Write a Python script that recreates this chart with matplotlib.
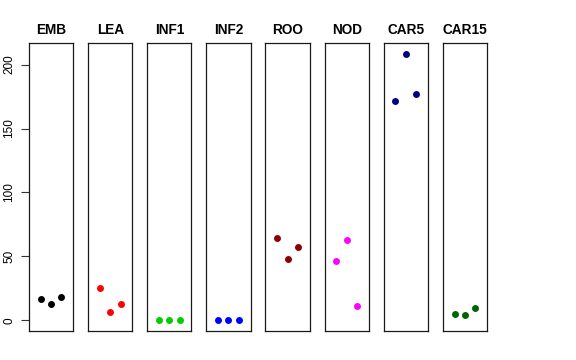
import matplotlib
matplotlib.use("Agg")
import matplotlib.pyplot as plt

plt.rcParams['font.family'] = ['Liberation Sans', 'DejaVu Sans']

categories = ["EMB", "LEA", "INF1", "INF2", "ROO", "NOD", "CAR5", "CAR15"]
values = {
    "EMB":   [17, 13, 18],
    "LEA":   [25, 6.3, 13],
    "INF1":  [0, 0, 0],
    "INF2":  [0, 0, 0],
    "ROO":   [64.7, 47.7, 57.3],
    "NOD":   [46.7, 62.6, 11.2],
    "CAR5":  [171.3, 208.3, 177.3],
    "CAR15": [5.2, 4.4, 9.6],
}
colors = ["#000000", "#FF0000", "#00CD00", "#0000FF", "#8B0000", "#FF00FF", "#00008B", "#006400"]
yticks = [0, 50, 100, 150, 200]
reps = [1, 2, 3]

W, H = 576, 360
fig = plt.figure(figsize=(W / 100, H / 100), dpi=100)

allv = [v for c in categories for v in values[c]]
lo, hi = min(allv), max(allv)
r = hi - lo
ylim = (lo - 0.04 * r, hi + 0.04 * r)

left0 = 29
step = 59.1
width = 44.3
bottom = 1 - 331 / H
height = (331 - 43.3) / H

for i, (cat, col) in enumerate(zip(categories, colors)):
    ax = fig.add_axes([(left0 + i * step) / W, bottom, width / W, height])
    ax.plot(reps, values[cat], 'o', color=col, markersize=5, markeredgewidth=0)
    ax.set_xlim(-0.16, 4.16)
    ax.set_ylim(*ylim)
    ax.set_xticks([])
    ax.set_title(cat, fontsize=9.8, fontweight='bold', pad=7)
    for s in ax.spines.values():
        s.set_linewidth(0.9)
        s.set_color('#1a1a1a')
    if i == 0:
        ax.set_yticks(yticks)
        ax.set_yticklabels([str(t) for t in yticks], rotation=90, va='center', fontsize=8.5)
        ax.tick_params(axis='y', length=6, width=0.8, pad=4, colors='#333333', labelcolor='black')
    else:
        ax.set_yticks([])

fig.savefig("out.png", dpi=100)
